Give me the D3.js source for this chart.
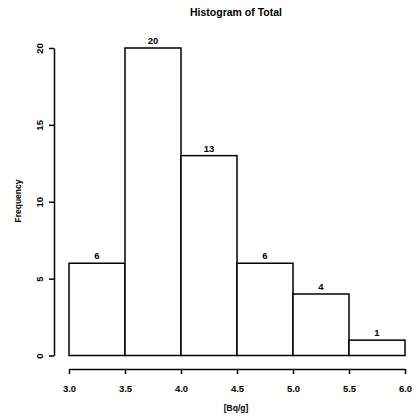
<!DOCTYPE html>
<html>
<head>
<meta charset="utf-8">
<script src="https://cdn.jsdelivr.net/npm/d3@7"></script>
<style>
  body { margin: 0; background: #fff; }
  text { font-family: "Liberation Sans", Arial, sans-serif; font-weight: bold; fill: #000; }
</style>
</head>
<body>
<svg width="418" height="420"></svg>
<script>
const binEdges = [3.0, 3.5, 4.0, 4.5, 5.0, 5.5, 6.0];
const counts = [6, 20, 13, 6, 4, 1];
const xTicks = [3.0, 3.5, 4.0, 4.5, 5.0, 5.5, 6.0];
const yTicks = [0, 5, 10, 15, 20];

const svg = d3.select("svg");

const x = d3.scaleLinear().domain([3, 6]).range([69, 405]);
const y = d3.scaleLinear().domain([0, 20]).range([355.5, 48]);

const bins = counts.map((c, i) => ({ x0: binEdges[i], x1: binEdges[i + 1], n: c }));

// bars
svg.append("g")
  .selectAll("rect")
  .data(bins)
  .enter()
  .append("rect")
  .attr("x", (d) => x(d.x0))
  .attr("y", (d) => y(d.n))
  .attr("width", (d) => x(d.x1) - x(d.x0))
  .attr("height", (d) => y(0) - y(d.n))
  .attr("fill", "#fff")
  .attr("stroke", "#000")
  .attr("stroke-width", 1.5);

// count labels
svg.append("g")
  .selectAll("text")
  .data(bins)
  .enter()
  .append("text")
  .attr("x", (d) => (x(d.x0) + x(d.x1)) / 2)
  .attr("y", (d) => y(d.n) - 4)
  .attr("text-anchor", "middle")
  .attr("font-size", "9.5px")
  .text((d) => d.n);

// x axis, offset below the plot like R does
const xAxis = svg.append("g")
  .attr("transform", "translate(0,369)")
  .call(d3.axisBottom(x).tickValues(xTicks).tickFormat(d3.format(".1f")).tickSize(5).tickSizeOuter(0).tickPadding(11));
xAxis.select(".domain").attr("stroke-width", 1.5);
xAxis.selectAll(".tick line").attr("stroke-width", 1.5);
xAxis.selectAll("text").attr("font-size", "9.5px").attr("font-family", null);

// y axis with rotated labels
const yAxis = svg.append("g")
  .attr("transform", "translate(54,0)")
  .call(d3.axisLeft(y).tickValues(yTicks).tickSize(5).tickSizeOuter(0).tickFormat(d3.format("d")));
yAxis.select(".domain").attr("stroke-width", 1.5);
yAxis.selectAll(".tick line").attr("stroke-width", 1.5);
yAxis.selectAll("text")
  .attr("font-size", "9.5px")
  .attr("font-family", null)
  .attr("x", null)
  .attr("dy", null)
  .attr("text-anchor", "middle")
  .attr("transform", "translate(-11,0) rotate(-90)")
  .attr("y", 0);

// titles
svg.append("text")
  .attr("x", 236)
  .attr("y", 16)
  .attr("text-anchor", "middle")
  .attr("font-size", "10.5px")
  .text("Histogram of Total");

svg.append("text")
  .attr("x", 236)
  .attr("y", 411)
  .attr("text-anchor", "middle")
  .attr("font-size", "8.5px")
  .text("[Bq/g]");

svg.append("text")
  .attr("transform", "translate(21,201) rotate(-90)")
  .attr("text-anchor", "middle")
  .attr("font-size", "8.5px")
  .text("Frequency");
</script>
</body>
</html>
